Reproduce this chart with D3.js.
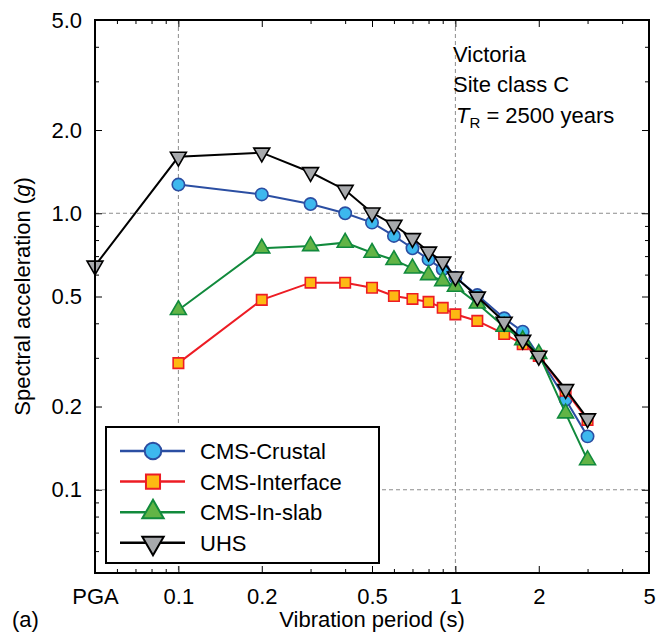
<!DOCTYPE html>
<html>
<head>
<meta charset="utf-8">
<script src="https://cdn.jsdelivr.net/npm/d3@7"></script>
<style>
  body { margin: 0; background: #fff; }
  svg { font-family: "Liberation Sans", Arial, sans-serif; }
</style>
</head>
<body>
<div class="chart"></div>
<script>
// periods (s), PGA is plotted at 0.05
const periods = [0.05, 0.1, 0.2, 0.3, 0.4, 0.5, 0.6, 0.7, 0.8, 0.9, 1.0, 1.2, 1.5, 1.75, 2.0, 2.5, 3.0];

const crustal   = [null, 1.27, 1.17, 1.08, 1.00, 0.925, 0.828, 0.747, 0.681, 0.627, 0.585, 0.506, 0.417, 0.373, 0.305, 0.212, 0.156];
const interface_ = [null, 0.287, 0.486, 0.561, 0.561, 0.538, 0.502, 0.490, 0.478, 0.455, 0.431, 0.408, 0.366, 0.336, 0.305, 0.228, 0.179];
const inslab    = [null, 0.447, 0.747, 0.761, 0.783, 0.720, 0.678, 0.632, 0.598, 0.569, 0.543, 0.472, 0.389, 0.348, 0.310, 0.189, 0.128];
const uhs       = [0.646, 1.60, 1.656, 1.407, 1.214, 1.005, 0.907, 0.812, 0.726, 0.668, 0.590, 0.499, 0.405, 0.348, 0.305, 0.231, 0.181];

const seriesNames = ["CMS-Crustal", "CMS-Interface", "CMS-In-slab", "UHS"];

const xTickVals = [0.05, 0.1, 0.2, 0.5, 1, 2, 5];
const xTickLabels = ["PGA", "0.1", "0.2", "0.5", "1", "2", "5"];
const yTickVals = [0.1, 0.2, 0.5, 1, 2, 5];
const yTickLabels = ["0.1", "0.2", "0.5", "1.0", "2.0", "5.0"];

const width = 657, height = 635;
const margin = {left: 95, right: 8, top: 20, bottom: 62};
const plotW = width - margin.left - margin.right;
const plotH = height - margin.top - margin.bottom;
const fs = 22;

const svg = d3.select(".chart").append("svg")
  .attr("width", width)
  .attr("height", height);

const x = d3.scaleLog().domain([0.05, 5]).range([margin.left, margin.left + plotW]);
const y = d3.scaleLog().domain([0.05, 5]).range([margin.top + plotH, margin.top]);

// minor ticks at every integer multiple in each decade
let minor = [];
[0.01, 0.1, 1].forEach(function(d) {
  for (let k = 2; k <= 9; k++) minor.push(+(d * k).toFixed(3));
});
const xMinor = minor.filter(v => v > 0.05 && v < 5 && xTickVals.indexOf(v) < 0);
const yMinor = minor.filter(v => v > 0.05 && v < 5 && yTickVals.indexOf(v) < 0);

// grid
const grid = svg.append("g").attr("id", "grid");
[0.1, 1].forEach(function(v) {
  grid.append("line")
    .attr("x1", x(v)).attr("x2", x(v))
    .attr("y1", margin.top).attr("y2", margin.top + plotH)
    .attr("stroke", "#8c8c8c").attr("stroke-width", 1).attr("stroke-dasharray", "4,3");
  grid.append("line")
    .attr("x1", margin.left).attr("x2", margin.left + plotW)
    .attr("y1", y(v)).attr("y2", y(v))
    .attr("stroke", "#8c8c8c").attr("stroke-width", 1).attr("stroke-dasharray", "4,3");
});

// axes (ticks inward on all four sides)
function tickAxis(axisFn, scale, vals, len, transform) {
  svg.append("g")
    .attr("transform", transform)
    .call(axisFn(scale).tickValues(vals).tickSize(-len).tickFormat(""))
    .call(g => g.select(".domain").remove())
    .call(g => g.selectAll(".tick line").attr("stroke", "#000").attr("stroke-width", 1));
}
tickAxis(d3.axisBottom, x, xMinor, 4, "translate(0," + (margin.top + plotH) + ")");
tickAxis(d3.axisBottom, x, xTickVals, 7, "translate(0," + (margin.top + plotH) + ")");
tickAxis(d3.axisTop, x, xMinor, 4, "translate(0," + margin.top + ")");
tickAxis(d3.axisTop, x, xTickVals, 7, "translate(0," + margin.top + ")");
tickAxis(d3.axisLeft, y, yMinor, 4, "translate(" + margin.left + ",0)");
tickAxis(d3.axisLeft, y, yTickVals, 7, "translate(" + margin.left + ",0)");
tickAxis(d3.axisRight, y, yMinor, 4, "translate(" + (margin.left + plotW) + ",0)");
tickAxis(d3.axisRight, y, yTickVals, 7, "translate(" + (margin.left + plotW) + ",0)");

// tick labels
let xAxis = svg.append("g")
  .attr("id", "x-axis")
  .attr("transform", "translate(0," + (margin.top + plotH) + ")")
  .call(d3.axisBottom(x).tickValues(xTickVals).tickSize(0).tickPadding(15)
    .tickFormat((d, i) => xTickLabels[i]));
xAxis.select(".domain").remove();
xAxis.selectAll("text").attr("font-size", fs).attr("fill", "#000")
  .attr("font-family", "Liberation Sans, Arial, sans-serif");

let yAxis = svg.append("g")
  .attr("id", "y-axis")
  .attr("transform", "translate(" + margin.left + ",0)")
  .call(d3.axisLeft(y).tickValues(yTickVals).tickSize(0).tickPadding(13)
    .tickFormat((d, i) => yTickLabels[i]));
yAxis.select(".domain").remove();
yAxis.selectAll("text").attr("font-size", fs).attr("fill", "#000")
  .attr("font-family", "Liberation Sans, Arial, sans-serif");

// series
const styles = [
  {line: "#2b4ea2", fill: "#3db8ee", stroke: "#2b4ea2", sym: d3.symbolCircle, size: 120, rot: 0},
  {line: "#ed1c24", fill: "#fdb913", stroke: "#ed1c24", sym: d3.symbolSquare, size: 110, rot: 0},
  {line: "#118a3c", fill: "#62b446", stroke: "#118a3c", sym: d3.symbolTriangle, size: 110, rot: 0},
  {line: "#000000", fill: "#a7a9ac", stroke: "#000000", sym: d3.symbolTriangle, size: 110, rot: 180}
];
const allSeries = [crustal, interface_, inslab, uhs];

const line = d3.line()
  .defined(d => d.v != null)
  .x(d => x(d.t))
  .y(d => y(d.v));

allSeries.forEach(function(vals, i) {
  const st = styles[i];
  const pts = periods.map((t, j) => ({t: t, v: vals[j]})).filter(d => d.v != null);
  const g = svg.append("g").attr("class", "series");
  g.append("path")
    .datum(pts)
    .attr("fill", "none")
    .attr("stroke", st.line)
    .attr("stroke-width", 2)
    .attr("d", line);
  g.selectAll("path.mark")
    .data(pts)
    .enter().append("path")
    .attr("class", "mark")
    .attr("d", d3.symbol().type(st.sym).size(st.size))
    .attr("transform", d => "translate(" + x(d.t) + "," + y(d.v) + ") rotate(" + st.rot + ")")
    .attr("fill", st.fill)
    .attr("stroke", st.stroke)
    .attr("stroke-width", 1.6);
});

// frame
svg.append("rect")
  .attr("x", margin.left).attr("y", margin.top)
  .attr("width", plotW).attr("height", plotH)
  .attr("fill", "none").attr("stroke", "#000").attr("stroke-width", 2);

// legend
const legend = svg.append("g").attr("id", "legend");
legend.append("rect")
  .attr("x", 106).attr("y", 427).attr("width", 273).attr("height", 136)
  .attr("fill", "#fff").attr("stroke", "#000").attr("stroke-width", 2);
seriesNames.forEach(function(name, i) {
  const st = styles[i];
  const ly = 451 + i * 30.6;
  legend.append("line")
    .attr("x1", 120).attr("x2", 185).attr("y1", ly).attr("y2", ly)
    .attr("stroke", st.line).attr("stroke-width", 2.5);
  legend.append("path")
    .attr("d", d3.symbol().type(st.sym).size(st.size * 1.8))
    .attr("transform", "translate(153," + ly + ") rotate(" + st.rot + ")")
    .attr("fill", st.fill).attr("stroke", st.stroke).attr("stroke-width", 2);
  legend.append("text")
    .attr("x", 200).attr("y", ly)
    .attr("dy", "0.36em")
    .attr("font-size", fs)
    .text(name);
});

// annotation
const note = svg.append("g").attr("font-size", fs);
note.append("text").attr("x", 453).attr("y", 62).text("Victoria");
note.append("text").attr("x", 453).attr("y", 92).text("Site class C");
const tr = note.append("text").attr("x", 456).attr("y", 123);
tr.append("tspan").attr("font-style", "italic").text("T");
tr.append("tspan").attr("font-size", 15).attr("dy", 5).text("R");
tr.append("tspan").attr("dy", -5).text(" = 2500 years");

// axis titles
svg.append("text")
  .attr("x", margin.left + plotW / 2).attr("y", 627)
  .attr("text-anchor", "middle").attr("font-size", fs)
  .text("Vibration period (s)");

const yl = svg.append("text")
  .attr("transform", "translate(30," + (margin.top + plotH / 2) + ") rotate(-90)")
  .attr("text-anchor", "middle").attr("font-size", fs);
yl.append("tspan").text("Spectral acceleration (");
yl.append("tspan").attr("font-style", "italic").text("g");
yl.append("tspan").text(")");

svg.append("text").attr("x", 12).attr("y", 627).attr("font-size", fs).text("(a)");
</script>
</body>
</html>
